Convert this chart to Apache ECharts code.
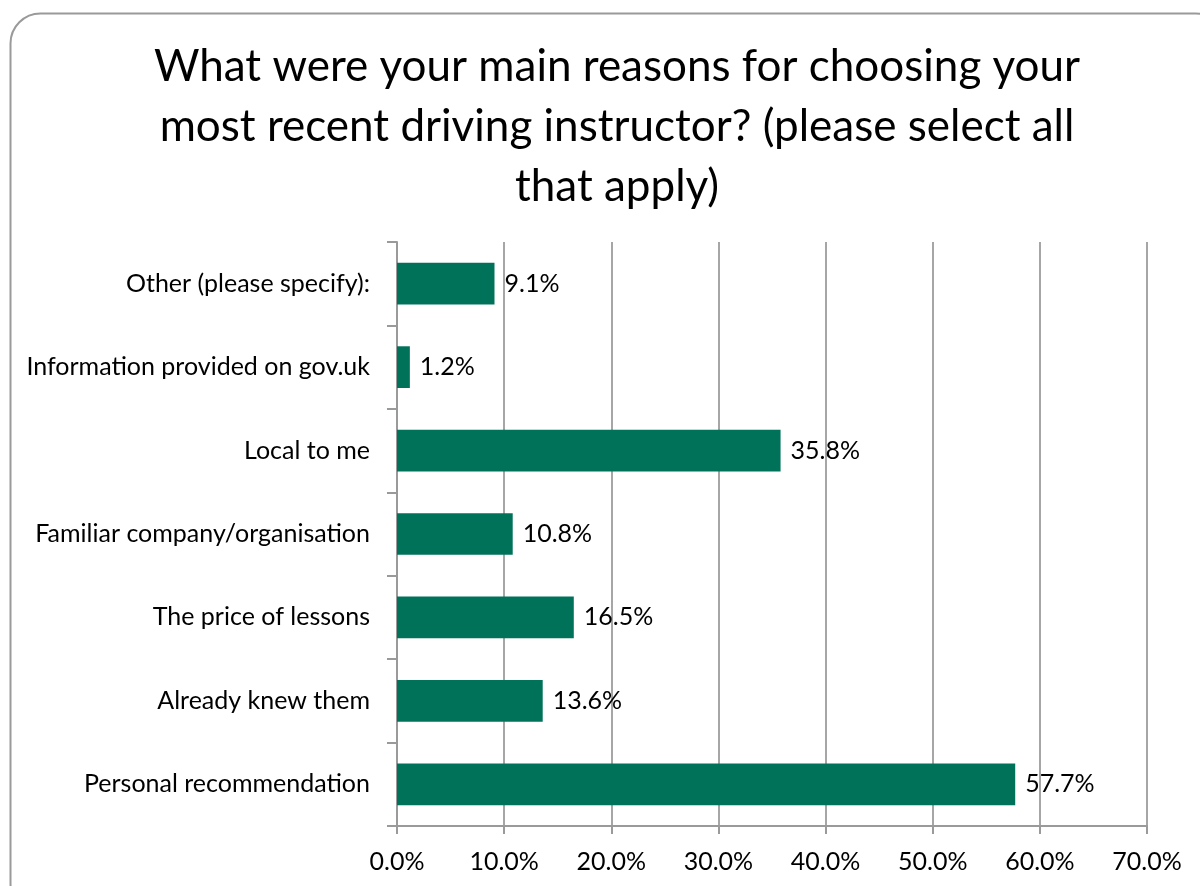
<!DOCTYPE html>
<html>
<head>
<meta charset="utf-8">
<script src="https://cdn.jsdelivr.net/npm/echarts@6/dist/echarts.min.js"></script>
<style>
  html, body { margin: 0; padding: 0; background: #fff; }
  #chart { width: 1200px; height: 886px; }
</style>
</head>
<body>
<div id="chart"></div>
<script>
// Survey answers, listed bottom-to-top as drawn on the category axis
const categories = [
  'Personal recommendation',
  'Already knew them',
  'The price of lessons',
  'Familiar company/organisation',
  'Local to me',
  'Information provided on gov.uk',
  'Other (please specify):'
];
const percentages = [57.7, 13.6, 16.5, 10.8, 35.8, 1.2, 9.1];
const axisTicks = [0, 10, 20, 30, 40, 50, 60, 70];

const titleText = 'What were your main reasons for choosing your\nmost recent driving instructor? (please select all\nthat apply)';
const FONT = 'Lato, "Open Sans", sans-serif';

const chart = echarts.init(document.getElementById('chart'), null, { renderer: 'canvas' });

chart.setOption({
  animation: false,
  backgroundColor: '#fff',
  graphic: [{
    type: 'rect',
    shape: { x: 10.5, y: 13.5, width: 1215, height: 900, r: 30 },
    style: { fill: 'none', stroke: '#9a9a9a', lineWidth: 2 },
    z: -1
  }],
  title: {
    text: titleText,
    left: 612,
    textAlign: 'center',
    top: 32,
    textStyle: {
      fontFamily: FONT,
      fontSize: 44,
      fontWeight: 'normal',
      color: '#000',
      lineHeight: 60
    }
  },
  grid: { left: 397, right: 53, top: 242, bottom: 60, containLabel: false },
  xAxis: {
    type: 'value',
    min: axisTicks[0],
    max: axisTicks[axisTicks.length - 1],
    interval: 10,
    axisLine: { show: true, lineStyle: { color: '#9a9a9a', width: 2 } },
    axisTick: { show: true, length: 8, lineStyle: { color: '#9a9a9a', width: 2 } },
    splitLine: { show: true, lineStyle: { color: '#a6a6a6', width: 2 } },
    axisLabel: {
      margin: 23,
      fontFamily: FONT,
      fontSize: 25,
      color: '#000',
      formatter: v => v.toFixed(1) + '%'
    }
  },
  yAxis: {
    type: 'category',
    data: categories,
    axisLine: { show: true, lineStyle: { color: '#9a9a9a', width: 2 } },
    axisTick: { show: true, length: 10, lineStyle: { color: '#9a9a9a', width: 2 } },
    axisLabel: {
      margin: 27,
      fontFamily: FONT,
      fontSize: 25,
      color: '#000'
    }
  },
  series: [{
    type: 'bar',
    data: percentages,
    barCategoryGap: '50%',
    itemStyle: { color: '#00725a' },
    label: {
      show: true,
      position: 'right',
      distance: 10,
      fontFamily: FONT,
      fontSize: 25,
      color: '#000',
      formatter: p => p.value.toFixed(1) + '%'
    }
  }]
});
</script>
</body>
</html>
